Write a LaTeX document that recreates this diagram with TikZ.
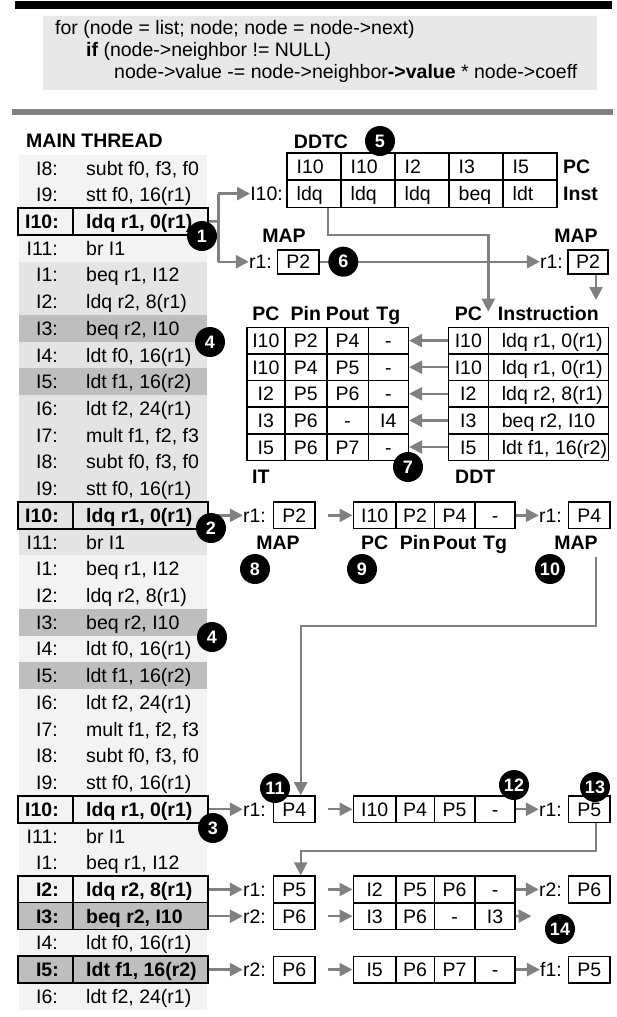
\documentclass[tikz,border=0pt]{standalone}
\usepackage{fontspec}
\setmainfont{Liberation Sans}
\usetikzlibrary{positioning, arrows.meta, calc}
\definecolor{rowLight}{RGB}{243,243,243}
\definecolor{rowMid}{RGB}{228,228,228}
\definecolor{rowDark}{RGB}{190,190,190}
\definecolor{codeGray}{RGB}{232,232,232}
\definecolor{wireGray}{RGB}{128,128,128}
\newcommand{\figfont}{\fontsize{19.5}{22}\selectfont}
\tikzset{
	txt/.style={inner sep=0pt, text height=14pt, text depth=0pt, font=\figfont},
	boldtxt/.style={txt, font=\figfont\bfseries},
	cell/.style={txt, draw, line width=1.6pt, minimum height=26.6pt},
	mapbox/.style={cell, minimum width=41.7pt},
	ddtccell/.style={cell, minimum width=54pt, minimum height=27.3pt, text width=34pt, align=left},
	wire/.style={draw=wireGray, line width=2.4pt},
	flowarr/.style={wire, -{Triangle[length=13pt, width=13pt]}},
	badge/.style={circle, fill=black, text=white, minimum size=30pt, inner sep=0pt,
		font=\fontsize{18}{18}\selectfont\bfseries}
}
\begin{document}
\begin{tikzpicture}[x=1pt, y=-1pt]
	\useasboundingbox (0,0) rectangle (617,1017);
	% source loop
	\fill[black] (15,1) rectangle (612,9);
	\node[fill=codeGray, minimum width=554pt, minimum height=74pt, inner sep=0pt, anchor=north west] (codeBox) at (43,16) {};
	\node[txt, anchor=west] (codeA) at (55,27.6) {for (node = list; node; node = node->next)};
	\node[txt, anchor=west] (codeB) at (86,49.3) {\textbf{if} (node->neighbor != NULL)};
	\node[txt, anchor=west] (codeC) at (114,71) {node->value -= node->neighbor\textbf{->value} * node->coeff};
	\fill[wireGray] (12,109) rectangle (613,115);

	% main thread
	\node[boldtxt, anchor=west] (mainLbl) at (26,140) {MAIN THREAD};
	\fill[rowLight] (19,154.6) rectangle (207,261.5);
	\fill[rowMid] (19,261.5) rectangle (207,555.4);
	\fill[rowLight] (19,555.4) rectangle (207,1009.6);
	\foreach \k in {6,8,17,19}
		\fill[rowDark] (19,154.6+26.72*\k) rectangle (207,181.32+26.72*\k);
	\foreach \k/\lbl/\instr in {0/I8/{subt f0, f3, f0}, 1/I9/{stt f0, 16(r1)}, 3/I11/{br I1},
			4/I1/{beq r1, I12}, 5/I2/{ldq r2, 8(r1)}, 6/I3/{beq r2, I10}, 7/I4/{ldt f0, 16(r1)},
			8/I5/{ldt f1, 16(r2)}, 9/I6/{ldt f2, 24(r1)}, 10/I7/{mult f1, f2, f3}, 11/I8/{subt f0, f3, f0},
			12/I9/{stt f0, 16(r1)}, 14/I11/{br I1}, 15/I1/{beq r1, I12}, 16/I2/{ldq r2, 8(r1)},
			17/I3/{beq r2, I10}, 18/I4/{ldt f0, 16(r1)}, 19/I5/{ldt f1, 16(r2)}, 20/I6/{ldt f2, 24(r1)},
			21/I7/{mult f1, f2, f3}, 22/I8/{subt f0, f3, f0}, 23/I9/{stt f0, 16(r1)}, 25/I11/{br I1},
			26/I1/{beq r1, I12}, 29/I4/{ldt f0, 16(r1)}, 31/I6/{ldt f2, 24(r1)}} {
		\node[txt, anchor=east] (lbl\k) at (58,168+26.72*\k) {\lbl:};
		\node[txt, anchor=west] (ins\k) at (86,168+26.72*\k) {\instr};
	}
	\foreach \k/\lbl/\instr/\boxfill in {2/I10/{ldq r1, 0(r1)}/none, 13/I10/{ldq r1, 0(r1)}/none,
			24/I10/{ldq r1, 0(r1)}/none, 27/I2/{ldq r2, 8(r1)}/none, 28/I3/{beq r2, I10}/rowDark,
			30/I5/{ldt f1, 16(r2)}/rowDark} {
		\node[cell, fill=\boxfill, minimum width=190pt, minimum height=27pt, anchor=west] (box\k) at (17.3,168+26.72*\k) {};
		\draw[line width=1.6pt] ([xshift=55.4pt]box\k.north west) -- ([xshift=55.4pt]box\k.south west);
		\node[boldtxt, anchor=east] (lbl\k) at (59,168+26.72*\k) {\lbl:};
		\node[boldtxt, anchor=west] (ins\k) at (86,168+26.72*\k) {\instr};
	}

	% DDTC and first map
	\node[boldtxt] (ddtcLbl) at (321,141) {DDTC};
	\foreach \c/\dpc/\dop in {0/I10/ldq, 1/I10/ldq, 2/I2/ldq, 3/I3/beq, 4/I5/ldt} {
		\node[ddtccell] (dpc\c) at (313.7+54*\c,166.35) {\dpc};
		\node[ddtccell] (dop\c) at (313.7+54*\c,193.65) {\dop};
	}
	\node[boldtxt, anchor=west] (pcTag) at (563,166.35) {PC};
	\node[boldtxt, anchor=west] (instLbl) at (563,193.65) {Inst};
	\node[txt, anchor=east] (instTag) at (283,193.65) {I10:};
	\node[boldtxt] (mapLblA) at (284,235) {MAP};
	\node[txt, anchor=east] (r1A) at (272,261.7) {r1:};
	\node[mapbox, minimum height=24pt] (p2A) at (298.3,261.7) {P2};
	\node[boldtxt] (mapLblB) at (576,235) {MAP};
	\node[txt, anchor=east] (r1B) at (563,261.7) {r1:};
	\node[mapbox, minimum width=40pt, minimum height=24pt] (p2B) at (588,261.7) {P2};

	% IT and DDT
	\foreach \x/\hd [count=\n] in {265.85/PC, 305.85/Pin, 347.5/Pout, 388.3/Tg}
		\node[boldtxt] (itHd\n) at (\x,313.3) {\hd};
	\node[boldtxt] (ddtHdA) at (468.3,313.3) {PC};
	\node[boldtxt] (ddtHdB) at (548.3,313.3) {Instruction};
	\foreach \r/\ia/\ib/\ic/\id/\dpc/\dins in {0/I10/P2/P4/-/I10/{ldq r1, 0(r1)},
			1/I10/P4/P5/-/I10/{ldq r1, 0(r1)}, 2/I2/P5/P6/-/I2/{ldq r2, 8(r1)},
			3/I3/P6/-/I4/I3/{beq r2, I10}, 4/I5/P6/P7/-/I5/{ldt f1, 16(r2)}} {
		\node[cell, minimum width=38.3pt] (itA\r) at (265.85,340.6+26.6*\r) {\ia};
		\node[cell, minimum width=41.7pt] (itB\r) at (305.85,340.6+26.6*\r) {\ib};
		\node[cell, minimum width=41.6pt] (itC\r) at (347.5,340.6+26.6*\r) {\ic};
		\node[cell, minimum width=40pt] (itD\r) at (388.3,340.6+26.6*\r) {\id};
		\node[cell, minimum width=40pt] (ddtA\r) at (468.3,340.6+26.6*\r) {\dpc};
		\node[cell, minimum width=120pt] (ddtB\r) at (548.3,340.6+26.6*\r) {};
		\node[txt, anchor=west] (ddtT\r) at (501.7,340.6+26.6*\r) {\dins};
		\draw[flowarr] (ddtA\r) -- (itD\r);
	}
	\node[boldtxt, anchor=west] (itLbl) at (252,476) {IT};
	\node[boldtxt, anchor=west] (ddtLbl) at (455,476) {DDT};

	% lookups per instance
	\foreach \k/\rin/\pin/\ea/\eb/\ec/\ed in {13/r1/P2/I10/P2/P4/-, 24/r1/P4/I10/P4/P5/-,
			27/r1/P5/I2/P5/P6/-, 28/r2/P6/I3/P6/-/I3, 30/r2/P6/I5/P6/P7/-} {
		\node[txt, anchor=east] (rin\k) at (266,168+26.72*\k) {\rin:};
		\node[mapbox] (pin\k) at (294.2,168+26.72*\k) {\pin};
		\node[cell, minimum width=42.7pt] (ea\k) at (374.65,168+26.72*\k) {\ea};
		\node[cell, minimum width=38.3pt] (eb\k) at (415.15,168+26.72*\k) {\eb};
		\node[cell, minimum width=40.7pt] (ec\k) at (454.65,168+26.72*\k) {\ec};
		\node[cell, minimum width=40pt] (ed\k) at (495,168+26.72*\k) {\ed};
		\draw[flowarr] (box\k) -- (rin\k);
		\draw[flowarr, shorten <=12pt] (pin\k) -- (ea\k);
	}
	\foreach \k/\rout/\pout in {13/r1/P4, 24/r1/P5, 27/r2/P6, 30/f1/P5} {
		\node[txt, anchor=east] (rout\k) at (562,168+26.72*\k) {\rout:};
		\node[mapbox] (pout\k) at (589.2,168+26.72*\k) {\pout};
		\draw[flowarr] (ed\k) -- (rout\k);
	}
	\node[boldtxt] (mapLblC) at (278,542.5) {MAP};
	\foreach \x/\hd [count=\n] in {374.65/PC, 415.15/Pin, 454.65/Pout, 495/Tg}
		\node[boldtxt] (entHd\n) at (\x,542.5) {\hd};
	\node[boldtxt] (mapLblD) at (576,542.5) {MAP};

	% connectors
	\coordinate (fork) at (218.3,221.4);
	\draw[wire] (box2) -- (fork);
	\draw[wire] (fork |- instTag) -- (fork |- r1A);
	\draw[flowarr] (fork |- instTag) -- (instTag);
	\draw[flowarr] (fork |- r1A) -- (r1A);
	\draw[flowarr] (p2A) -- (r1B);
	\coordinate (ddtFeed) at (596,300);
	\draw[flowarr] (p2B.south -| ddtFeed) -- (ddtFeed);
	\coordinate (ddtTop) at (488.3,311.7);
	\draw[flowarr] ([xshift=14pt]dop0.south) -- ++(0,26.7) -| (ddtTop);
	\coordinate (routeA) at (596,557);
	\coordinate (bendA) at (300.7,626);
	\draw[flowarr] (routeA) |- (bendA) -- (bendA |- pin24.north);
	\coordinate (bendB) at (300.7,850.7);
	\draw[flowarr] (pout24.south -| routeA) |- (bendB) -- (bendB |- pin27.north);
	\coordinate (toFourteen) at (531.5,916.1);
	\draw[flowarr] (ed28) -- (toFourteen);

	% step markers
	\foreach \n/\x/\y in {1/202/236, 2/211/528, 3/213/828, 5/380/141, 6/343.3/261.7, 7/408/467,
			8/255/569, 9/362/569, 10/550/569, 11/275/788, 12/514/785, 13/595/787, 14/560/929}
		\node[badge] (step\n) at (\x,\y) {\n};
	\node[badge] (stepFourA) at (210,342) {4};
	\node[badge] (stepFourB) at (212,637) {4};
\end{tikzpicture}
\end{document}
